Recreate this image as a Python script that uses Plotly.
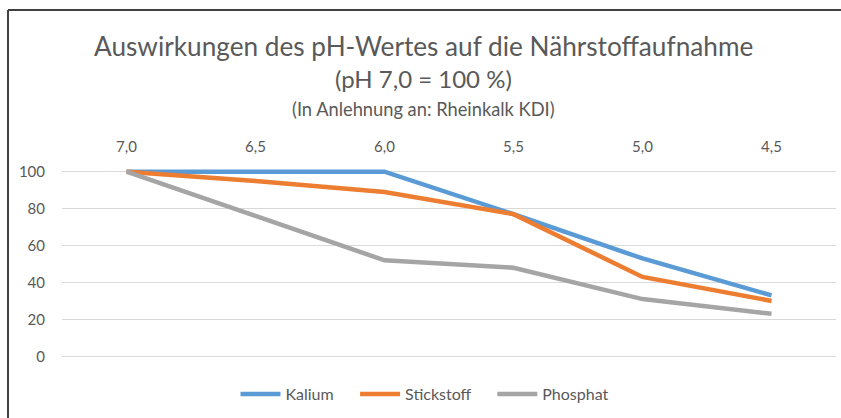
import plotly.graph_objects as go

# pH values (category labels on the top axis)
ph_labels = ["7,0", "6,5", "6,0", "5,5", "5,0", "4,5"]

# Relative nutrient uptake in % (pH 7,0 = 100 %)
kalium = [100, 100, 100, 77, 53, 33]
stickstoff = [100, 95, 89, 77, 43, 30]
phosphat = [100, 76, 52, 48, 31, 23]

series_names = ["Kalium", "Stickstoff", "Phosphat"]
series_colors = ["#5B9BD5", "#ED7D31", "#A5A5A5"]

W, H = 841, 418
L, R, T, B = 62, 5, 168, 58
plot_w = W - L - R
plot_h = H - T - B

def px_x(px):
    return (px - L) / plot_w

def px_y(py):
    return (H - B - py) / plot_h

FONT = "Lato"
TXT = "#595959"
PAD = "\u00a0" * 4  # extra spacing between legend entries

fig = go.Figure()
n = len(series_names)
for i, (name, vals, col) in enumerate(zip(series_names, [kalium, stickstoff, phosphat], series_colors)):
    fig.add_trace(go.Scatter(
        x=ph_labels, y=vals, name=name + (PAD if i < n - 1 else ""), mode="lines",
        line=dict(color=col, width=4.5),
    ))

title_x = px_x(423)
fig.add_annotation(text="Auswirkungen des pH-Wertes auf die Nährstoffaufnahme",
                   xref="paper", yref="paper", x=title_x, y=px_y(46),
                   showarrow=False, xanchor="center", yanchor="middle",
                   font=dict(family=FONT, size=26.2, color=TXT))
fig.add_annotation(text="(pH 7,0 = 100 %)",
                   xref="paper", yref="paper", x=title_x, y=px_y(78),
                   showarrow=False, xanchor="center", yanchor="middle",
                   font=dict(family=FONT, size=24, color=TXT))
fig.add_annotation(text="(In Anlehnung an: Rheinkalk KDI)",
                   xref="paper", yref="paper", x=title_x, y=px_y(109),
                   showarrow=False, xanchor="center", yanchor="middle",
                   font=dict(family=FONT, size=18.3, color=TXT))

# Chart frame (top and left edges)
frame = dict(color="#404040", width=2)
fig.add_shape(type="line", xref="paper", yref="paper",
              x0=px_x(8), x1=px_x(845), y0=px_y(10), y1=px_y(10), line=frame)
fig.add_shape(type="line", xref="paper", yref="paper",
              x0=px_x(8), x1=px_x(8), y0=px_y(10), y1=px_y(425), line=frame)

fig.update_layout(
    width=W, height=H,
    margin=dict(l=L, r=R, t=T, b=B),
    paper_bgcolor="white", plot_bgcolor="white",
    font=dict(family=FONT, size=15, color=TXT),
    showlegend=True,
    legend=dict(orientation="h", x=px_x(425), xanchor="center",
                y=px_y(394), yanchor="middle",
                font=dict(family=FONT, size=16, color=TXT),
                itemwidth=40, tracegroupgap=0),
)
fig.update_xaxes(type="category", side="top", range=[-0.5, 5.5],
                 showgrid=False, showline=False, zeroline=False,
                 ticks="", ticklabelstandoff=12,
                 tickfont=dict(family=FONT, size=15, color=TXT))
fig.update_yaxes(range=[-2, 102], tickvals=[0, 20, 40, 60, 80, 100],
                 showgrid=True, gridcolor="#D9D9D9", gridwidth=1,
                 zeroline=False, showline=False, ticks="",
                 ticklabelstandoff=16,
                 tickfont=dict(family=FONT, size=15, color=TXT))

fig.write_html("out.html")
